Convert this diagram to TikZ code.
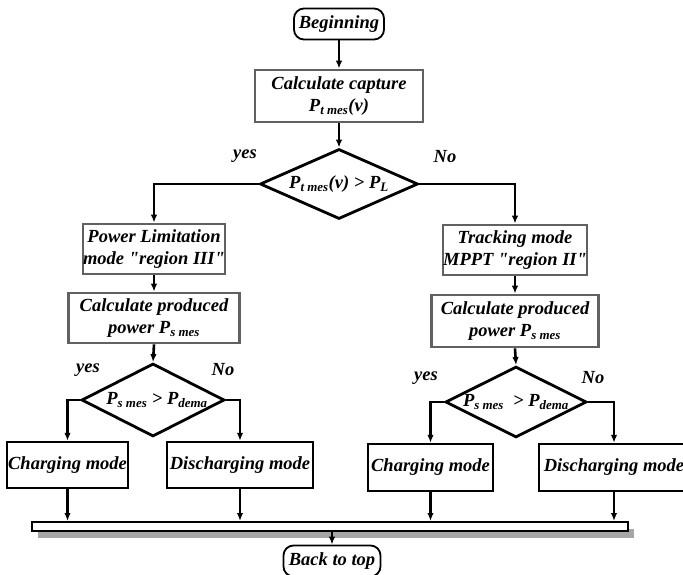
\documentclass[tikz,border=0pt]{standalone}
\usepackage{fontspec}
\setmainfont{Liberation Serif}
\usetikzlibrary{shapes.geometric,shadows,arrows.meta}

\tikzset{
  txt/.style={font=\fontsize{18.5}{22}\selectfont\bfseries\itshape},
  termbox/.style={txt,draw,line width=1.8pt,rounded corners=10pt,inner sep=0},
  procbox/.style={txt,draw=black!62,line width=2.8pt,align=center,inner sep=0},
  modebox/.style={txt,draw,line width=2.4pt,inner sep=0},
  decbox/.style={diamond,draw,line width=2.8pt,inner sep=0},
  flow/.style={line width=2.6pt,-{Latex[length=8pt,width=6.5pt]}}
}
\newcommand{\qm}{\textquotedbl}

\begin{document}
\begin{tikzpicture}[x=1pt,y=-1pt]
    \useasboundingbox (0,0) rectangle (683,575);
    \clip (0,0) rectangle (683,575);

    \node at (339,24) [termbox,minimum height=31pt,minimum width=90pt] (begin) {Beginning};
    \node at (339,96) [procbox,minimum height=52pt,minimum width=168pt] (capture) {Calculate capture\\P\textsubscript{t mes}(v)};
    \node at (339,184) [decbox,minimum height=70pt,minimum width=158pt,label={[txt]center:P\textsubscript{t mes}(v) {>} P\textsubscript{L}}] (dec1) {};

    \node at (154,249) [procbox,minimum height=50pt,minimum width=138pt] (limit) {Power Limitation\\mode \qm region III\qm};
    \node at (154,318) [procbox,minimum height=50pt,minimum width=171pt] (prodL) {Calculate produced\\power P\textsubscript{s mes}};
    \node at (153,400) [decbox,minimum height=73pt,minimum width=143pt,label={[txt,xshift=4pt]center:P\textsubscript{s mes} {>} P\textsubscript{dema}}] (decL) {};

    \node at (515,250) [procbox,minimum height=50pt,minimum width=133pt] (track) {Tracking mode\\MPPT \qm region II\qm};
    \node at (515,321) [procbox,minimum height=52pt,minimum width=167pt] (prodR) {Calculate produced\\power P\textsubscript{s mes}};
    \node at (516,402) [decbox,minimum height=71pt,minimum width=141pt,label={[txt]center:P\textsubscript{s mes} \ {>} P\textsubscript{dema}}] (decR) {};

    \node at (67.5,465) [modebox,minimum height=46pt,minimum width=121pt] (chargeL) {Charging mode};
    \node at (240,465) [modebox,minimum height=46pt,minimum width=146pt] (dischL) {Discharging mode};
    \node at (430.5,467.5) [modebox,minimum height=47pt,minimum width=125pt] (chargeR) {Charging mode};
    \node at (614,467.5) [modebox,minimum height=47pt,minimum width=150pt] (dischR) {Discharging mode};

    \node at (330,526.5) [draw,fill=white,line width=2pt,minimum height=9pt,minimum width=596pt,inner sep=0,
        drop shadow={fill=black!35,opacity=1,shadow xshift=6pt,shadow yshift=-7pt}] (bar) {};
    \node at (332,561) [termbox,minimum height=31pt,minimum width=97pt] (back) {Back to top};

    % yes / no
    \node at (245,156) [txt] (yes1) {yes};
    \node at (445,157) [txt] (no1) {No};
    \node at (88,370) [txt] (yes2) {yes};
    \node at (223,370) [txt] (no2) {No};
    \node at (426,378) [txt] (yes3) {yes};
    \node at (593,378) [txt] (no3) {No};

    \draw[flow] (begin.south) -- (capture.north);
    \draw[flow] (capture.south) -- (dec1.north);
    \draw[flow] (dec1.west) -| (limit.north);
    \draw[flow] (dec1.east) -| (track.north);
    \draw[flow] (limit.south) -- (prodL.north);
    \draw[flow] (track.south) -- (prodR.north);
    \draw[flow] (prodL.south) -- (decL.north);
    \draw[flow] (prodR.south) -- (decR.north);
    \draw[flow] (decL.west) -| (chargeL.north);
    \draw[flow] (decL.east) -| (dischL.north);
    \draw[flow] (decR.west) -| (chargeR.north);
    \draw[flow] (decR.east) -| (dischR.north);

    \draw[flow] (chargeL.south) -- (chargeL.south |- bar.north);
    \draw[flow] (dischL.south) -- (dischL.south |- bar.north);
    \draw[flow] (chargeR.south) -- (chargeR.south |- bar.north);
    \draw[flow] (dischR.south) -- (dischR.south |- bar.north);
    \draw[flow] (back.north |- bar.south) -- (back.north);
\end{tikzpicture}
\end{document}
